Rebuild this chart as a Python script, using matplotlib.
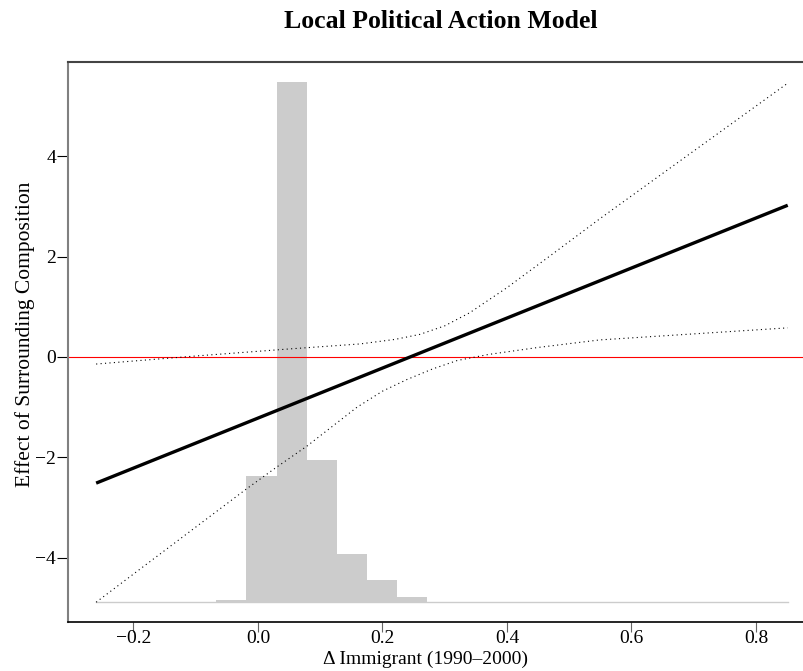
import matplotlib
matplotlib.use("Agg")
from matplotlib import pyplot as plt
import numpy as np

# marginal effect of surrounding composition across change in immigrant share
effect_x = [-0.26, 0.851]
effect_y = [-2.51, 3.02]

# 95% bounds
upper_x = [-0.26, -0.10, 0.05, 0.164, 0.22, 0.26, 0.30, 0.34, 0.40, 0.47, 0.549, 0.70, 0.851]
upper_y = [-0.14, 0.02, 0.16, 0.26, 0.35, 0.45, 0.62, 0.88, 1.38, 2.02, 2.75, 4.10, 5.45]

lower_x = [-0.26, -0.093, -0.019, 0.029, 0.079, 0.159, 0.20, 0.239, 0.28, 0.32, 0.37, 0.45, 0.549, 0.70, 0.851]
lower_y = [-4.88, -3.32, -2.63, -2.20, -1.77, -1.00, -0.68, -0.45, -0.24, -0.07, 0.05, 0.19, 0.34, 0.46, 0.58]

# distribution of the moderator (share of cases per bin, 23 equal bins)
hist_start = -0.26
hist_end = 0.851
hist_share = [0.0, 0.0, 0.0, 0.0, 0.002, 0.146, 0.601, 0.164, 0.055, 0.026, 0.006,
              0.0, 0.0, 0.0, 0.0, 0.0, 0.0, 0.0, 0.0, 0.0, 0.0, 0.0, 0.0]
hist_base = -4.876
hist_top = 5.47

xticks = [-0.2, 0.0, 0.2, 0.4, 0.6, 0.8]
yticks = [-4, -2, 0, 2, 4]

plt.rcParams['font.family'] = ['Liberation Serif', 'DejaVu Serif']
plt.rcParams['axes.unicode_minus'] = True

fig = plt.figure(figsize=(8.04, 6.71), dpi=100)
ax = fig.add_axes([68 / 804, 49 / 671, 747 / 804, 560 / 671])

##--histogram in the background--##
edges = np.linspace(hist_start, hist_end, len(hist_share) + 1)
share = np.array(hist_share)
heights = share / share.max() * (hist_top - hist_base)
ax.bar(edges[:-1], heights, width=np.diff(edges), bottom=hist_base, align="edge",
       color="#cccccc", linewidth=0, zorder=1)
ax.plot([hist_start, hist_end], [hist_base, hist_base], color="#cccccc", lw=1, zorder=1)

##--zero reference and effect lines--##
ax.axhline(0, color="red", lw=0.8, zorder=2)
ax.plot(effect_x, effect_y, color="black", lw=2.4, solid_capstyle="butt", zorder=3)
ax.plot(upper_x, upper_y, color="black", lw=0.8, linestyle=(0, (1, 3)), zorder=3)
ax.plot(lower_x, lower_y, color="black", lw=0.8, linestyle=(0, (1, 3)), zorder=3)

ax.set_xlim(-0.3052, 0.8948)
ax.set_ylim(-5.274, 5.871)

##--axis styling--##
ax.spines["right"].set_visible(False)
ax.spines["left"].set_color("#808080")
ax.spines["left"].set_linewidth(1.5)
ax.spines["top"].set_color("#444444")
ax.spines["top"].set_linewidth(1.5)
ax.spines["bottom"].set_color("black")
ax.spines["bottom"].set_linewidth(1.2)

ax.set_xticks(xticks)
ax.set_yticks(yticks)
ax.tick_params(axis="x", direction="out", length=7, width=0.8, color="#666666", pad=-1, labelsize=14)
ax.tick_params(axis="y", direction="out", length=8, width=0.8, color="black", pad=0.5, labelsize=14)

fig.text(441 / 804, 1 - 22 / 671, "Local Political Action Model", ha="center", va="center",
         fontsize=18.5, fontweight="bold")
fig.text(426 / 804, 1 - 659 / 671, "\u0394 Immigrant (1990\u20132000)", ha="center", va="center",
         fontsize=14)
fig.text(25 / 804, 1 - 334 / 671, "Effect of Surrounding Composition", ha="center", va="center",
         rotation=90, fontsize=15.5)

fig.savefig("out.png", dpi=100)
